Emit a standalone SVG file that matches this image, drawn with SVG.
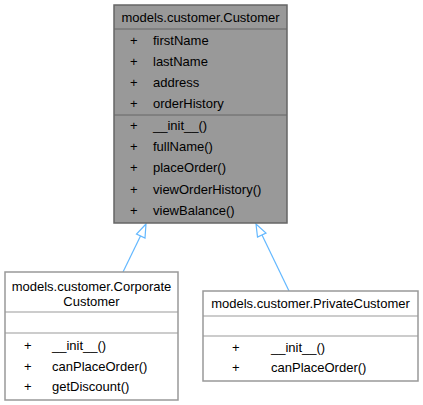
<svg xmlns="http://www.w3.org/2000/svg" width="423" height="405" viewBox="0 0 423 405">
<style>
text{font-family:"Liberation Sans",Arial,sans-serif;font-size:13px;fill:#000}
.c{text-anchor:middle}
.box{stroke:#666;stroke-width:1.5}
.wbox{stroke:#999;stroke-width:1.5}
.sep{stroke:#666;stroke-width:1}
.wsep{stroke:#999;stroke-width:1}
.edge{stroke:#63B8FF;stroke-width:1.2;fill:none}
.head{fill:#fff;stroke:#63B8FF;stroke-width:1.2}
</style>
<rect width="423" height="405" fill="#fff"/>
<g id="edges">
<line class="edge" x1="123" y1="272" x2="141" y2="235"/>
<polygon class="head" points="146,224 136.5,234 145,238"/>
<line class="edge" x1="289" y1="291" x2="262" y2="235"/>
<polygon class="head" points="256,224 257.5,237 266,233"/>
</g>
<g id="Customer">
<rect class="box" x="114" y="5" width="173" height="218" fill="#999"/>
<line class="sep" x1="114" y1="29" x2="287" y2="29"/>
<line class="sep" x1="114" y1="115" x2="287" y2="115"/>
<text class="c" x="200.5" y="22">models.customer.Customer</text>
<text x="130" y="45">+</text><text x="153" y="45">firstName</text>
<text x="130" y="66">+</text><text x="153" y="66">lastName</text>
<text x="130" y="87">+</text><text x="153" y="87">address</text>
<text x="130" y="108">+</text><text x="153" y="108">orderHistory</text>
<text x="130" y="130">+</text><text x="153" y="130">__init__()</text>
<text x="130" y="151">+</text><text x="153" y="151">fullName()</text>
<text x="130" y="172">+</text><text x="153" y="172">placeOrder()</text>
<text x="130" y="194">+</text><text x="153" y="194">viewOrderHistory()</text>
<text x="130" y="215">+</text><text x="153" y="215">viewBalance()</text>
</g>
<g id="CorporateCustomer">
<rect class="wbox" x="5" y="272" width="173" height="128" fill="#fff"/>
<line class="wsep" x1="5" y1="312" x2="178" y2="312"/>
<line class="wsep" x1="5" y1="333" x2="178" y2="333"/>
<text class="c" x="91.5" y="291">models.customer.Corporate</text>
<text class="c" x="91.5" y="306">Customer</text>
<text x="24" y="350">+</text><text x="52" y="350">__init__()</text>
<text x="24" y="371">+</text><text x="52" y="371">canPlaceOrder()</text>
<text x="24" y="391">+</text><text x="52" y="391">getDiscount()</text>
</g>
<g id="PrivateCustomer">
<rect class="wbox" x="203" y="291" width="215" height="90" fill="#fff"/>
<line class="wsep" x1="203" y1="316" x2="418" y2="316"/>
<line class="wsep" x1="203" y1="336" x2="418" y2="336"/>
<text class="c" x="310.5" y="308">models.customer.PrivateCustomer</text>
<text x="232" y="352">+</text><text x="271" y="352">__init__()</text>
<text x="232" y="372">+</text><text x="271" y="372">canPlaceOrder()</text>
</g>
</svg>
